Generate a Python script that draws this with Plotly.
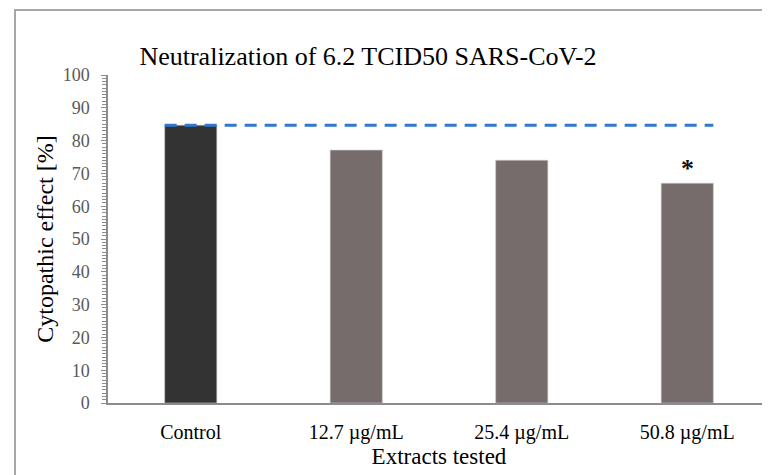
import plotly.graph_objects as go

categories = ["Control", "12.7 µg/mL", "25.4 µg/mL", "50.8 µg/mL"]
values = [84.7, 77.1, 74.0, 67.0]
bar_colors = ["#333333", "#766C6C", "#766C6C", "#766C6C"]
significance = ["", "", "", "*"]
y_ticks = list(range(0, 101, 10))

BAR_W = 0.315
FONT = "Times New Roman"
W, H = 762, 467  # page body adds an 8px offset

fig = go.Figure()
fig.add_trace(go.Bar(
    x=categories, y=values, width=BAR_W,
    marker=dict(color=bar_colors, line=dict(color="#c8c8c8", width=0.6)),
    showlegend=False, hoverinfo="skip",
))

# dashed reference line at control level
fig.add_shape(type="line", xref="x", yref="y",
              x0=-BAR_W / 2, x1=len(categories) - 1 + BAR_W / 2,
              y0=values[0], y1=values[0],
              line=dict(color="#2F78CF", width=3, dash="12px,8px"))

for c, v, s in zip(categories, values, significance):
    if s:
        fig.add_annotation(x=c, y=v, text="<b>" + s + "</b>", showarrow=False, yshift=15,
                           font=dict(family=FONT, size=26, color="#111111"))

# outer chart frame
fig.add_shape(type="rect", xref="paper", yref="paper",
              x0=-0.1405, x1=1.2, y0=-0.4, y1=1.198,
              line=dict(color="#a6a6a6", width=2), layer="below")

fig.update_layout(
    width=W, height=H,
    margin=dict(l=100, r=0, t=67, b=72, pad=0),
    plot_bgcolor="white", paper_bgcolor="white",
    bargap=0.68,
    title=dict(text="Neutralization of 6.2 TCID50 SARS-CoV-2",
               x=360 / W, xref="container", xanchor="center",
               y=1 - 48 / H, yref="container", yanchor="middle",
               font=dict(family=FONT, size=26, color="#000000")),
    font=dict(family=FONT),
    xaxis=dict(showline=True, linecolor="#8c8c8c", linewidth=1.5,
               ticks="", showgrid=False, range=[-0.5, 3.5],
               ticklabelstandoff=10,
               tickfont=dict(family=FONT, size=20, color="#000000"),
               title=dict(text="Extracts tested", standoff=2,
                          font=dict(family=FONT, size=23, color="#000000"))),
    yaxis=dict(range=[0, 100], tickvals=y_ticks, showgrid=False,
               showline=True, linecolor="#8c8c8c", linewidth=1.5,
               ticks="outside", ticklen=5, tickcolor="#8c8c8c",
               ticklabelstandoff=8,
               minor=dict(dtick=1, ticks="outside", ticklen=4, tickcolor="#8c8c8c", tickwidth=1),
               tickfont=dict(family=FONT, size=18, color="#595959"),
               title=dict(text="Cytopathic effect [%]", standoff=2,
                          font=dict(family=FONT, size=24, color="#000000"))),
)

fig.write_html("out.html")
